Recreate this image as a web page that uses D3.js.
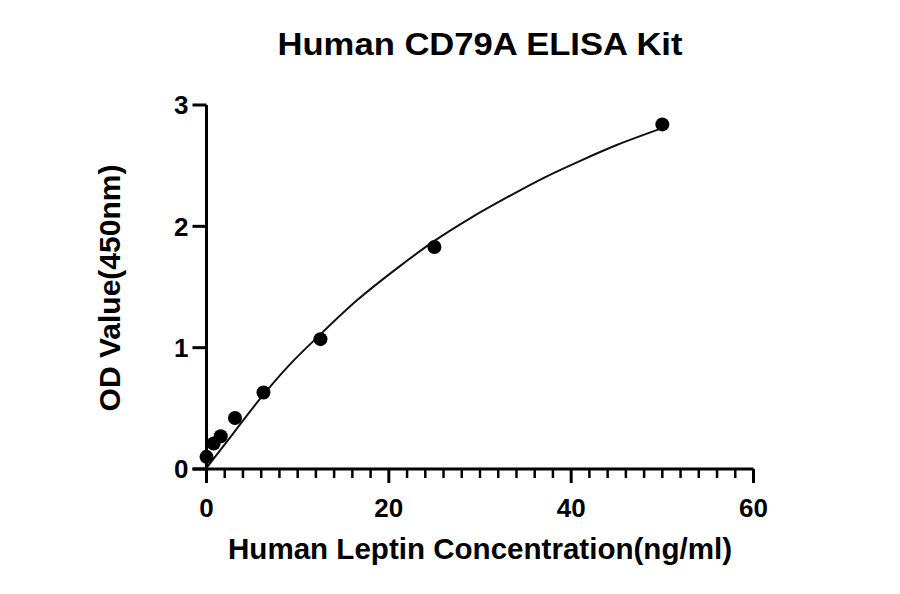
<!DOCTYPE html>
<html lang="en">
<head>
<meta charset="utf-8">
<title>Human CD79A ELISA Kit</title>
<script src="https://cdn.jsdelivr.net/npm/d3@7"></script>
<style>
  body { margin: 0; background: #fff; }
  text { font-family: "Liberation Sans", Arial, sans-serif; font-weight: bold; fill: #000; }
</style>
</head>
<body>
<script>
// standard points (ng/ml vs OD450)
var conc = [0, 0.78, 1.56, 3.125, 6.25, 12.5, 25, 50];
var od = [0.10, 0.21, 0.27, 0.42, 0.63, 1.07, 1.83, 2.84];

// fitted curve
var fitX = [0, 3, 6, 9, 12.5, 16.5, 21, 25, 29, 33, 37, 41, 45, 50];
var fitY = [0.01, 0.30, 0.59, 0.85, 1.11, 1.39, 1.66, 1.88, 2.07, 2.24, 2.40, 2.54, 2.67, 2.81];

var xTicks = [0, 20, 40, 60];
var yTicks = [0, 1, 2, 3];

var width = 900, height = 594;

var svg = d3.select("body").append("svg")
  .attr("width", width)
  .attr("height", height);

var x = d3.scaleLinear().domain([0, 60]).range([206.5, 753.5]);
var y = d3.scaleLinear().domain([0, 3]).range([469, 105]);

// x axis with minor ticks every 2
var xAxis = svg.append("g").attr("transform", "translate(0," + y(0) + ")");
xAxis.append("line")
  .attr("x1", x(0) - 14).attr("x2", x(60))
  .attr("stroke", "#000").attr("stroke-width", 3);
xAxis.selectAll("line.minor")
  .data(d3.range(0, 61, 2).filter(function(d) { return d % 20 != 0; }))
  .enter().append("line")
  .attr("class", "minor")
  .attr("x1", function(d) { return x(d); })
  .attr("x2", function(d) { return x(d); })
  .attr("y1", 0).attr("y2", 9)
  .attr("stroke", "#000").attr("stroke-width", 2.5);
xAxis.selectAll("line.major")
  .data(xTicks)
  .enter().append("line")
  .attr("class", "major")
  .attr("x1", function(d) { return x(d); })
  .attr("x2", function(d) { return x(d); })
  .attr("y1", 0).attr("y2", 14)
  .attr("stroke", "#000").attr("stroke-width", 3);
xAxis.selectAll("text")
  .data(xTicks)
  .enter().append("text")
  .attr("x", function(d) { return x(d); })
  .attr("y", 48)
  .attr("text-anchor", "middle")
  .attr("font-size", 26)
  .text(function(d) { return d; });

// y axis
var yAxis = svg.append("g").attr("transform", "translate(" + x(0) + ",0)");
yAxis.append("line")
  .attr("y1", y(0) + 14).attr("y2", y(3))
  .attr("stroke", "#000").attr("stroke-width", 3);
yAxis.selectAll("line.major")
  .data(yTicks)
  .enter().append("line")
  .attr("class", "major")
  .attr("x1", -14).attr("x2", 0)
  .attr("y1", function(d) { return y(d); })
  .attr("y2", function(d) { return y(d); })
  .attr("stroke", "#000").attr("stroke-width", 3);
yAxis.selectAll("text")
  .data(yTicks)
  .enter().append("text")
  .attr("x", -18)
  .attr("y", function(d) { return y(d); })
  .attr("dy", "0.36em")
  .attr("text-anchor", "end")
  .attr("font-size", 26)
  .text(function(d) { return d; });

// fit curve
var fit = fitX.map(function(d, i) { return [d, fitY[i]]; });
svg.append("path")
  .datum(fit)
  .attr("fill", "none")
  .attr("stroke", "#111")
  .attr("stroke-width", 2)
  .attr("d", d3.line()
    .x(function(d) { return x(d[0]); })
    .y(function(d) { return y(d[1]); })
    .curve(d3.curveMonotoneX));

// points
svg.selectAll("circle")
  .data(conc)
  .enter().append("circle")
  .attr("cx", function(d) { return x(d); })
  .attr("cy", function(d, i) { return y(od[i]); })
  .attr("r", 7)
  .attr("fill", "#000");

// titles
svg.append("text")
  .attr("x", 480).attr("y", 55)
  .attr("text-anchor", "middle")
  .attr("font-size", 31)
  .attr("textLength", 405)
  .attr("lengthAdjust", "spacingAndGlyphs")
  .text("Human CD79A ELISA Kit");

svg.append("text")
  .attr("x", 480).attr("y", 559)
  .attr("text-anchor", "middle")
  .attr("font-size", 30)
  .attr("textLength", 504)
  .attr("lengthAdjust", "spacingAndGlyphs")
  .text("Human Leptin Concentration(ng/ml)");

svg.append("text")
  .attr("transform", "translate(120,288) rotate(-90)")
  .attr("text-anchor", "middle")
  .attr("font-size", 30)
  .text("OD Value(450nm)");
</script>
</body>
</html>
